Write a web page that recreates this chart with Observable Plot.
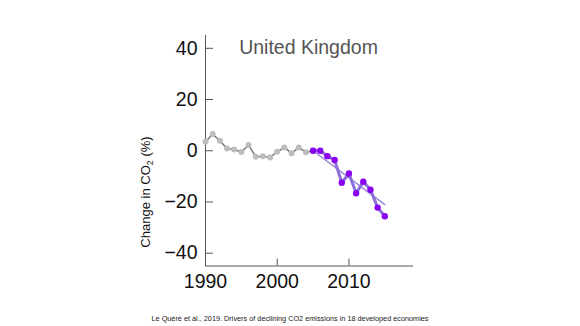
<!DOCTYPE html>
<html>
<head>
<meta charset="utf-8">
<script src="https://cdn.jsdelivr.net/npm/d3@7"></script>
<script src="https://cdn.jsdelivr.net/npm/@observablehq/plot@0.6"></script>
<style>
  html, body { margin: 0; padding: 0; background: #fff; }
  #chart { width: 580px; height: 300px; }
  #caption { width: 580px; text-align: center; font: 7.3px "Liberation Sans", Arial, sans-serif; color: #222; margin-top: 14px; }
</style>
</head>
<body>
<div id="chart"></div>
<div id="caption"></div>
<script>
const title = "United Kingdom";
const caption = "Le Quéré et al., 2019. Drivers of declining CO2 emissions in 18 developed economies";
const yearsBefore = [1990,1991,1992,1993,1994,1995,1996,1997,1998,1999,2000,2001,2002,2003,2004,2005];
const valuesBefore = [3.5,6.5,3.9,0.9,0.5,-0.5,2.2,-2.3,-2.1,-2.6,-0.4,1.3,-1.0,1.3,-0.6,0];
const yearsAfter = [2005,2006,2007,2008,2009,2010,2011,2012,2013,2014,2015];
const valuesAfter = [0,0,-2.1,-3.6,-12.5,-8.9,-16.6,-12.1,-15.2,-22.2,-25.6];
const trendYears = [2005, 2015];
const trendValues = [0, -21];
const xTicks = [1990, 2000, 2010];
const yTicks = [-40, -20, 0, 20, 40];
const xDomain = [1990, 2019];
const yDomain = [-45, 45];

const before = yearsBefore.map((y, i) => ({year: y, value: valuesBefore[i]}));
const after = yearsAfter.map((y, i) => ({year: y, value: valuesAfter[i]}));
const trend = trendYears.map((y, i) => ({year: y, value: trendValues[i]}));

const axisColor = "#555";
const font = "'Liberation Sans', Arial, sans-serif";

const chart = Plot.plot({
  width: 580,
  height: 300,
  marginLeft: 205,
  marginRight: 167,
  marginTop: 35,
  marginBottom: 34.5,
  style: {fontFamily: font, background: "#fff", overflow: "visible"},
  x: {domain: xDomain},
  y: {domain: yDomain},
  marks: [
    Plot.ruleX([xDomain[0]], {stroke: axisColor, strokeWidth: 1}),
    Plot.ruleY([yDomain[0]], {stroke: axisColor, strokeWidth: 1}),
    Plot.axisY(yTicks, {anchor: "left", tickSize: 8, dx: 8, tickPadding: 8, fontSize: 19.5, stroke: axisColor, fill: "#111", label: null}),
    Plot.axisX(xTicks, {anchor: "bottom", tickSize: 7, dy: -7, tickPadding: 8, fontSize: 19.5, stroke: axisColor, fill: "#111", tickFormat: d => String(d), label: null}),
    Plot.line(before, {x: "year", y: "value", stroke: "#777", strokeWidth: 1.5}),
    Plot.dot(before, {x: "year", y: "value", r: 3, fill: "#bdbdbd", stroke: "none"}),
    Plot.line(trend, {x: "year", y: "value", stroke: "#9a86dc", strokeWidth: 1.5}),
    Plot.line(after, {x: "year", y: "value", stroke: "#8c6fd8", strokeWidth: 3}),
    Plot.dot(after, {x: "year", y: "value", r: 3.2, fill: "#8a00f0", stroke: "none"}),
    Plot.text([title], {frameAnchor: "top", lineAnchor: "top", dy: 5, dx: -1, fontSize: 19.5, fill: "#555"})
  ]
});

const svg = d3.select(chart);
const lbl = svg.append("text")
  .attr("transform", "translate(150,192) rotate(-90)")
  .attr("text-anchor", "middle")
  .attr("font-family", font)
  .attr("font-size", 13)
  .attr("fill", "#111");
lbl.append("tspan").text("Change in CO");
lbl.append("tspan").attr("font-size", 9).attr("dy", 3).text("2");
lbl.append("tspan").attr("dy", -3).text(" (%)");

document.getElementById("chart").appendChild(chart);
document.getElementById("caption").textContent = caption;
</script>
</body>
</html>
